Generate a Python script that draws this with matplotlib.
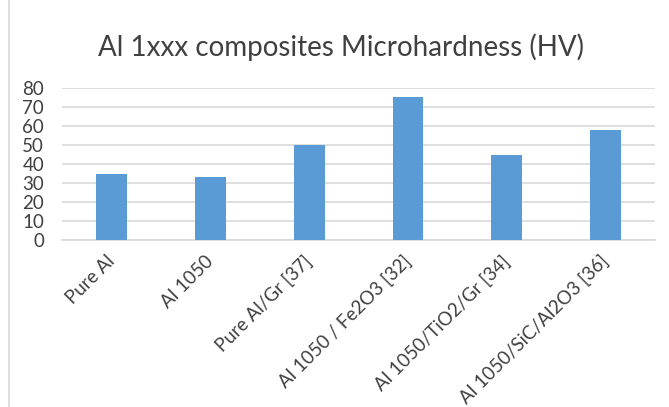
import matplotlib.pyplot as plt
from matplotlib.patches import Rectangle

# Chart data
categories = ['Pure Al', 'Al 1050', 'Pure Al/Gr [37]', 'Al 1050 / Fe2O3 [32]',
              'Al 1050/TiO2/Gr [34]', 'Al 1050/SiC/Al2O3 [36]']
hardness = [35, 33, 50, 75, 45, 58]
y_ticks = [0, 10, 20, 30, 40, 50, 60, 70, 80]

plt.rcParams['font.family'] = ['Lato', 'DejaVu Sans']

fig = plt.figure(figsize=(6.69, 4.07), dpi=100)
ax = fig.add_axes([0.093, 0.410, 0.886, 0.374])

# Outer chart frame (only left edge visible in the crop)
fig.patches.append(Rectangle((9 / 669, -0.05), 1.2, 1.2, transform=fig.transFigure,
                             fill=False, edgecolor='#d9d9d9', linewidth=1.2))

x = range(len(categories))
ax.bar(x, hardness, width=0.31, color='#5b9bd5', zorder=3)

ax.set_ylim(0, 80)
ax.set_yticks(y_ticks)
ax.set_xlim(-0.5, len(categories) - 0.5)
ax.set_xticks(list(x))
ax.set_xticklabels(categories, rotation=45, ha='right', va='center', rotation_mode='anchor',
                   fontsize=13.5, color='#404040')
ax.tick_params(axis='y', labelsize=13.5, colors='#404040', length=0, pad=13)
ax.tick_params(axis='x', length=0, pad=13)

ax.grid(axis='y', color='#d9d9d9', linewidth=1.2, zorder=0)
for side in ['top', 'right', 'left']:
    ax.spines[side].set_visible(False)
ax.spines['bottom'].set_color('#d9d9d9')
ax.spines['bottom'].set_linewidth(1.2)

fig.text(0.51, 0.885, 'Al 1xxx composites Microhardness (HV)', ha='center', va='center',
         fontsize=20, color='#404040')

fig.savefig('out.png', dpi=100)
